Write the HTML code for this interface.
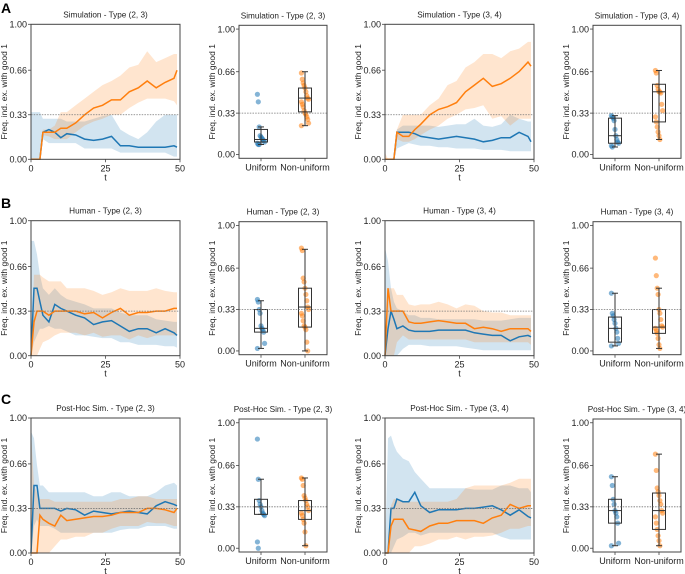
<!DOCTYPE html>
<html><head><meta charset="utf-8">
<style>
html,body{margin:0;padding:0;background:#fff;}
svg{display:block;font-family:"Liberation Sans","DejaVu Sans",sans-serif;}
</style></head>
<body>
<svg id="fig" width="685" height="574" viewBox="0 0 685 574" xmlns="http://www.w3.org/2000/svg">
<text x="1" y="13" font-size="14" font-weight="bold">A</text>
<text x="1" y="208" font-size="14" font-weight="bold">B</text>
<text x="1" y="404" font-size="14" font-weight="bold">C</text>
</svg>
<script>
// ---------- data ----------
const tPts = [0,1,2,3,4,6,8,10,12,15,18,21,24,27,30,33,36,39,42,45,48,49];
const xTicks = [0,25,50];
const yTicks = [0,0.33,0.66,1.00];
const yTickLabels = ["0.00","0.33","0.66","1.00"];
const boxCats = ["Uniform","Non-uniform"];

const simA_blue   = [0,0,0,0,0.2,0.22,0.2,0.16,0.19,0.18,0.15,0.14,0.15,0.17,0.1,0.1,0.09,0.09,0.09,0.09,0.1,0.09];
const simA_blueLo = [0,0,0,0,0.15,0.12,0.12,0.12,0.12,0.12,0.08,0.08,0.08,0.08,0.05,0.05,0.05,0.05,0.05,0.05,0.02,0.02];
const simA_blueHi = [0.35,0.35,0.35,0.35,0.3,0.3,0.3,0.3,0.28,0.28,0.28,0.3,0.32,0.33,0.22,0.18,0.15,0.2,0.28,0.33,0.33,0.33];
const simA_or     = [0,0,0,0,0.2,0.2,0.2,0.23,0.23,0.27,0.33,0.38,0.4,0.44,0.44,0.5,0.53,0.58,0.53,0.57,0.6,0.66];
const simA_orLo   = [0,0,0,0,0.18,0.17,0.15,0.15,0.15,0.2,0.25,0.28,0.3,0.33,0.33,0.38,0.42,0.45,0.45,0.45,0.43,0.4];
const simA_orHi   = [0,0,0,0,0.22,0.22,0.25,0.35,0.35,0.4,0.45,0.5,0.55,0.58,0.62,0.68,0.7,0.8,0.72,0.75,0.78,0.78];

const simB_blue   = [0,0,0,0,0.2,0.2,0.2,0.19,0.17,0.16,0.15,0.16,0.17,0.16,0.15,0.13,0.14,0.16,0.16,0.2,0.17,0.13];
const simB_blueLo = [0,0,0,0,0.08,0.1,0.12,0.11,0.1,0.1,0.09,0.09,0.08,0.08,0.08,0.07,0.07,0.07,0.06,0.06,0.06,0.06];
const simB_blueHi = [0,0,0,0,0.22,0.25,0.25,0.25,0.25,0.25,0.24,0.25,0.26,0.26,0.3,0.25,0.24,0.26,0.33,0.3,0.28,0.28];
const simB_or     = [0,0,0,0,0.2,0.17,0.17,0.22,0.26,0.33,0.37,0.39,0.42,0.5,0.55,0.6,0.54,0.56,0.6,0.65,0.72,0.69];
const simB_orLo   = [0,0,0,0,0.15,0.13,0.13,0.15,0.18,0.22,0.25,0.3,0.33,0.37,0.38,0.4,0.3,0.32,0.25,0.3,0.3,0.3];
const simB_orHi   = [0.05,0,0,0,0.22,0.33,0.33,0.33,0.33,0.4,0.45,0.55,0.58,0.68,0.72,0.78,0.78,0.75,0.8,0.82,0.87,0.87];

const humA_blue   = [0,0.5,0.5,0.4,0.3,0.25,0.38,0.35,0.33,0.3,0.28,0.23,0.25,0.26,0.22,0.18,0.2,0.2,0.17,0.2,0.17,0.15];
const humA_blueLo = [0,0.1,0.15,0.2,0.2,0.22,0.2,0.2,0.18,0.15,0.15,0.14,0.13,0.13,0.1,0.1,0.08,0.08,0.08,0.07,0.07,0.06];
const humA_blueHi = [0.85,0.85,0.75,0.6,0.5,0.45,0.5,0.45,0.42,0.4,0.38,0.35,0.35,0.35,0.32,0.3,0.3,0.3,0.27,0.26,0.25,0.25];
const humA_or     = [0,0.25,0.33,0.33,0.33,0.3,0.33,0.33,0.33,0.33,0.31,0.32,0.28,0.32,0.35,0.3,0.32,0.32,0.33,0.33,0.35,0.35];
const humA_orLo   = [0,0,0,0.05,0.1,0.12,0.15,0.17,0.17,0.17,0.15,0.17,0.14,0.15,0.15,0.12,0.15,0.13,0.15,0.15,0.15,0.15];
const humA_orHi   = [0.05,0.6,0.6,0.6,0.58,0.55,0.55,0.55,0.5,0.5,0.5,0.48,0.45,0.47,0.5,0.48,0.48,0.48,0.5,0.48,0.47,0.47];

const humB_blue   = [0,0.2,0.33,0.27,0.2,0.22,0.19,0.18,0.18,0.18,0.19,0.19,0.19,0.19,0.17,0.16,0.15,0.15,0.11,0.14,0.15,0.14];
const humB_blueLo = [0,0,0,0,0,0.05,0.08,0.08,0.08,0.07,0.07,0.07,0.07,0.06,0.05,0.04,0.04,0.04,0.04,0.04,0.04,0.04];
const humB_blueHi = [0.8,0.7,0.5,0.4,0.35,0.33,0.3,0.3,0.28,0.28,0.27,0.27,0.27,0.27,0.27,0.26,0.26,0.26,0.27,0.28,0.28,0.28];
const humB_or     = [0,0.5,0.33,0.33,0.33,0.33,0.25,0.24,0.24,0.25,0.26,0.25,0.24,0.24,0.2,0.21,0.2,0.18,0.2,0.2,0.2,0.18];
const humB_orLo   = [0,0,0,0,0.1,0.15,0.12,0.12,0.12,0.12,0.12,0.12,0.12,0.12,0.1,0.1,0.1,0.1,0.1,0.1,0.1,0.08];
const humB_orHi   = [0,0.5,0.5,0.5,0.45,0.45,0.38,0.37,0.38,0.38,0.4,0.38,0.35,0.38,0.37,0.33,0.32,0.32,0.3,0.3,0.3,0.3];

const phA_blue    = [0,0.5,0.5,0.33,0.33,0.33,0.33,0.31,0.33,0.32,0.28,0.31,0.3,0.29,0.3,0.31,0.3,0.29,0.35,0.38,0.36,0.35];
const phA_blueLo  = [0,0.2,0.25,0.2,0.2,0.2,0.18,0.15,0.15,0.15,0.15,0.15,0.15,0.15,0.17,0.18,0.18,0.2,0.2,0.2,0.18,0.18];
const phA_blueHi  = [0.9,0.85,0.65,0.5,0.5,0.45,0.45,0.45,0.45,0.45,0.45,0.42,0.42,0.45,0.45,0.42,0.42,0.42,0.45,0.5,0.52,0.5];
const phA_or      = [0,0,0,0.28,0.25,0.22,0.2,0.28,0.24,0.25,0.26,0.27,0.27,0.28,0.3,0.3,0.3,0.33,0.33,0.32,0.3,0.33];
const phA_orLo    = [0,0,0,0,0,0,0.05,0.1,0.1,0.12,0.12,0.15,0.15,0.18,0.2,0.2,0.2,0.23,0.22,0.22,0.2,0.2];
const phA_orHi    = [0.9,0.5,0.45,0.4,0.4,0.4,0.38,0.38,0.38,0.38,0.38,0.38,0.38,0.38,0.4,0.4,0.42,0.42,0.4,0.4,0.4,0.4];

const phB_blue    = [0,0,0.33,0.33,0.4,0.38,0.38,0.45,0.35,0.3,0.32,0.32,0.32,0.33,0.33,0.34,0.35,0.32,0.28,0.32,0.27,0.26];
const phB_blueLo  = [0,0,0,0.05,0.1,0.12,0.15,0.15,0.13,0.15,0.15,0.15,0.15,0.15,0.15,0.15,0.15,0.12,0.1,0.1,0.1,0.1];
const phB_blueHi  = [0,0.85,0.87,0.8,0.75,0.7,0.68,0.6,0.55,0.48,0.48,0.48,0.48,0.48,0.47,0.47,0.47,0.5,0.5,0.48,0.48,0.45];
const phB_or      = [0,0,0.2,0.25,0.25,0.25,0.18,0.17,0.16,0.2,0.22,0.22,0.24,0.24,0.24,0.22,0.26,0.28,0.36,0.33,0.35,0.35];
const phB_orLo    = [0,0,0,0,0,0,0,0.05,0.05,0.07,0.1,0.1,0.12,0.1,0.12,0.12,0.13,0.15,0.18,0.18,0.2,0.2];
const phB_orHi    = [0,0,0.35,0.4,0.4,0.38,0.38,0.38,0.38,0.38,0.38,0.38,0.4,0.48,0.5,0.5,0.5,0.5,0.52,0.55,0.55,0.55];

// box stats: [whiskerLo, q1, median, q3, whiskerHi]
const simA_uniStats = [0.08,0.1,0.12,0.2,0.22];
const simA_uniPts   = [0.48,0.42,0.22,0.15,0.14,0.13,0.12,0.11,0.1,0.09,0.08,0.08];
const simA_nonStats = [0.23,0.34,0.45,0.53,0.66];
const simA_nonPts   = [0.65,0.6,0.57,0.55,0.53,0.5,0.47,0.45,0.44,0.42,0.4,0.38,0.35,0.33,0.32,0.3,0.28,0.25,0.23];
const simB_uniStats = [0.06,0.09,0.15,0.29,0.31];
const simB_uniPts   = [0.31,0.3,0.29,0.27,0.2,0.15,0.12,0.1,0.09,0.07,0.06];
const simB_nonStats = [0.12,0.26,0.5,0.56,0.67];
const simB_nonPts   = [0.67,0.65,0.55,0.52,0.5,0.5,0.49,0.4,0.35,0.3,0.26,0.22,0.18,0.15,0.12];
const humA_uniStats = [0.02,0.15,0.18,0.33,0.4];
const humA_uniPts   = [0.41,0.39,0.33,0.3,0.2,0.18,0.17,0.15,0.06,0.02];
const humA_nonStats = [0,0.19,0.35,0.5,0.81];
const humA_nonPts   = [0.82,0.8,0.58,0.55,0.5,0.45,0.4,0.35,0.33,0.3,0.28,0.24,0.2,0.19,0.17,0.07,0];
const humB_uniStats = [0.04,0.07,0.18,0.27,0.46];
const humB_uniPts   = [0.46,0.3,0.28,0.25,0.22,0.18,0.15,0.1,0.06,0.04];
const humB_nonStats = [0.02,0.14,0.19,0.33,0.5];
const humB_nonPts   = [0.74,0.6,0.5,0.45,0.33,0.3,0.25,0.2,0.19,0.18,0.16,0.14,0.1,0.05,0.02];
const phA_uniStats  = [0.27,0.27,0.33,0.39,0.55];
const phA_uniPts    = [0.87,0.55,0.38,0.35,0.33,0.3,0.28,0.27,0.26,0.05,0];
const phA_nonStats  = [0.02,0.23,0.3,0.38,0.56];
const phA_nonPts    = [0.56,0.55,0.5,0.42,0.4,0.38,0.35,0.33,0.3,0.28,0.26,0.23,0.2,0.13,0.02];
const phB_uniStats  = [0.02,0.2,0.3,0.39,0.57];
const phB_uniPts    = [0.57,0.5,0.39,0.35,0.3,0.28,0.25,0.2,0.04,0.02];
const phB_nonStats  = [0.02,0.15,0.3,0.44,0.75];
const phB_nonPts    = [0.75,0.62,0.48,0.45,0.42,0.38,0.35,0.3,0.28,0.25,0.2,0.15,0.1,0.06,0.02];

// ---------- drawing ----------
const NS = "http://www.w3.org/2000/svg";
const svg = document.getElementById("fig");
const BLUE = "#1f77b4", ORANGE = "#ff7f0e", SPINE = "#444";
function mk(tag, attrs, parent) {
  const e = document.createElementNS(NS, tag);
  for (const k in attrs) e.setAttribute(k, attrs[k]);
  (parent || svg).appendChild(e);
  return e;
}
function txt(s, attrs, parent) { const e = mk("text", attrs, parent); e.textContent = s; return e; }

function axesCommon(g, L, T, R, B, yScale, title, xl) {
  const ref = mk("line", {x1:L, x2:R, y1:yScale(0.33), y2:yScale(0.33), stroke:"#777", "stroke-width":0.8, "stroke-dasharray":"1.5,1.2"}, g);
  
  
  const fr = mk("rect", {x:L, y:T, width:R-L, height:B-T, fill:"none", stroke:SPINE, "stroke-width":1}, g);
  
  
  yTicks.forEach((v, i) => {
    const y = yScale(v);
    mk("line", {x1:L-3, x2:L, y1:y, y2:y, stroke:SPINE, "stroke-width":0.8}, g);
    const t = txt(yTickLabels[i], {x:L-4, y:y+3.2, "font-size":9, "text-anchor":"end", fill:"#222"}, g);
    
    
  });
  const tt = txt(title, {x:(L+R)/2, y:T-7, "font-size":8.2, "text-anchor":"middle", fill:"#222"}, g);
  
  
  const yl = txt("Freq. ind. ex. with good 1", {x:0, y:0, "font-size":8.5, "text-anchor":"middle", fill:"#222", transform:`translate(${xl},${(T+B)/2}) rotate(-90)`}, g);
  
  
}

function linePanel(L, T, title, series) {
  const W = 149, H = 135, R = L + W, B = T + H;
  const g = mk("g", {});
  
  
  const xS = v => L + v / 50 * W;
  const yS = v => B - v * H;
  series.forEach(s => {
    let d = "";
    tPts.forEach((t, i) => d += (i ? "L" : "M") + xS(t).toFixed(1) + "," + yS(s.hi[i]).toFixed(1));
    for (let i = tPts.length - 1; i >= 0; i--) d += "L" + xS(tPts[i]).toFixed(1) + "," + yS(s.lo[i]).toFixed(1);
    const band = mk("path", {d: d + "Z", fill: s.color, "fill-opacity": 0.2, stroke: "none"}, g);
    
    
  });
  series.forEach(s => {
    const pts = tPts.map((t, i) => xS(t).toFixed(1) + "," + yS(s.mean[i]).toFixed(1)).join(" ");
    const ln = mk("polyline", {points: pts, fill: "none", stroke: s.color, "stroke-width": 1.5}, g);
    
    
  });
  axesCommon(g, L, T, R, B, yS, title, L - 24);
  xTicks.forEach(v => {
    const x = xS(v);
    mk("line", {x1:x, x2:x, y1:B, y2:B+3, stroke:SPINE, "stroke-width":0.8}, g);
    const t = txt(String(v), {x:x, y:B+12, "font-size":9, "text-anchor":"middle", fill:"#222"}, g);
    
    
  });
  const xt = txt("t", {x:L + W/2, y:B+21, "font-size":9, "text-anchor":"middle", fill:"#222"}, g);
  
  
}

function boxPanel(L, T, B, title, groups) {
  const W = 88, R = L + W;
  const g = mk("g", {});
  
  
  const lo = -0.03, hi = 1.03;
  const yS = v => B - (v - lo) / (hi - lo) * (B - T);
  const xS = c => L + (c + 0.5) / 2 * W;
  groups.forEach((gr, ci) => {
    const cx = xS(ci), bw = 6.5;
    const st = gr.stats;
    gr.pts.forEach((v, k) => {
      const jit = ((k * 37) % 9 - 4) * 0.9;
      const p = mk("circle", {cx: cx + jit, cy: yS(v), r: 2.6, fill: gr.color, "fill-opacity": 0.55}, g);
      
      
    });
    const wl = mk("line", {x1:cx, x2:cx, y1:yS(st[0]), y2:yS(st[4]), stroke:"#333", "stroke-width":1}, g);
    
    
    [st[0], st[4]].forEach(v => mk("line", {x1:cx-3, x2:cx+3, y1:yS(v), y2:yS(v), stroke:"#333", "stroke-width":1}, g));
    const bx = mk("rect", {x:cx-bw, y:yS(st[3]), width:2*bw, height:yS(st[1])-yS(st[3]), fill:"none", stroke:"#333", "stroke-width":1}, g);
    
    
    mk("line", {x1:cx-bw, x2:cx+bw, y1:yS(st[2]), y2:yS(st[2]), stroke:"#333", "stroke-width":1}, g);
    mk("line", {x1:cx, x2:cx, y1:B, y2:B+3, stroke:SPINE, "stroke-width":0.8}, g);
    const lb = txt(boxCats[ci], {x:cx, y:B+12, "font-size":9, "text-anchor":"middle", fill:"#222"}, g);
    
    
  });
  axesCommon(g, L, T, R, B, yS, title, L - 24);
}

const rows = [
  {top: 24.3, name: "Simulation", A:[simA_blue,simA_blueLo,simA_blueHi,simA_or,simA_orLo,simA_orHi], Bs:[simB_blue,simB_blueLo,simB_blueHi,simB_or,simB_orLo,simB_orHi],
   boxA:[simA_uniStats,simA_uniPts,simA_nonStats,simA_nonPts], boxB:[simB_uniStats,simB_uniPts,simB_nonStats,simB_nonPts]},
  {top: 220.7, name: "Human", A:[humA_blue,humA_blueLo,humA_blueHi,humA_or,humA_orLo,humA_orHi], Bs:[humB_blue,humB_blueLo,humB_blueHi,humB_or,humB_orLo,humB_orHi],
   boxA:[humA_uniStats,humA_uniPts,humA_nonStats,humA_nonPts], boxB:[humB_uniStats,humB_uniPts,humB_nonStats,humB_nonPts]},
  {top: 418, name: "Post-Hoc Sim.", A:[phA_blue,phA_blueLo,phA_blueHi,phA_or,phA_orLo,phA_orHi], Bs:[phB_blue,phB_blueLo,phB_blueHi,phB_or,phB_orLo,phB_orHi],
   boxA:[phA_uniStats,phA_uniPts,phA_nonStats,phA_nonPts], boxB:[phB_uniStats,phB_uniPts,phB_nonStats,phB_nonPts]}
];
function ser(a) {
  return [{name:"uniform", color:BLUE, mean:a[0], lo:a[1], hi:a[2]},
          {name:"non-uniform", color:ORANGE, mean:a[3], lo:a[4], hi:a[5]}];
}
function grp(b) {
  return [{color:BLUE, stats:b[0], pts:b[1]}, {color:ORANGE, stats:b[2], pts:b[3]}];
}
rows.forEach(r => {
  const T = r.top, Bt = T + 135;
  linePanel(31, T, r.name + " - Type (2, 3)", ser(r.A));
  boxPanel(239, T + 1, Bt - 1, r.name + " - Type (2, 3)", grp(r.boxA));
  linePanel(385, T, r.name + " - Type (3, 4)", ser(r.Bs));
  boxPanel(593, T + 1, Bt - 1, r.name + " - Type (3, 4)", grp(r.boxB));
});
</script>
</body></html>
